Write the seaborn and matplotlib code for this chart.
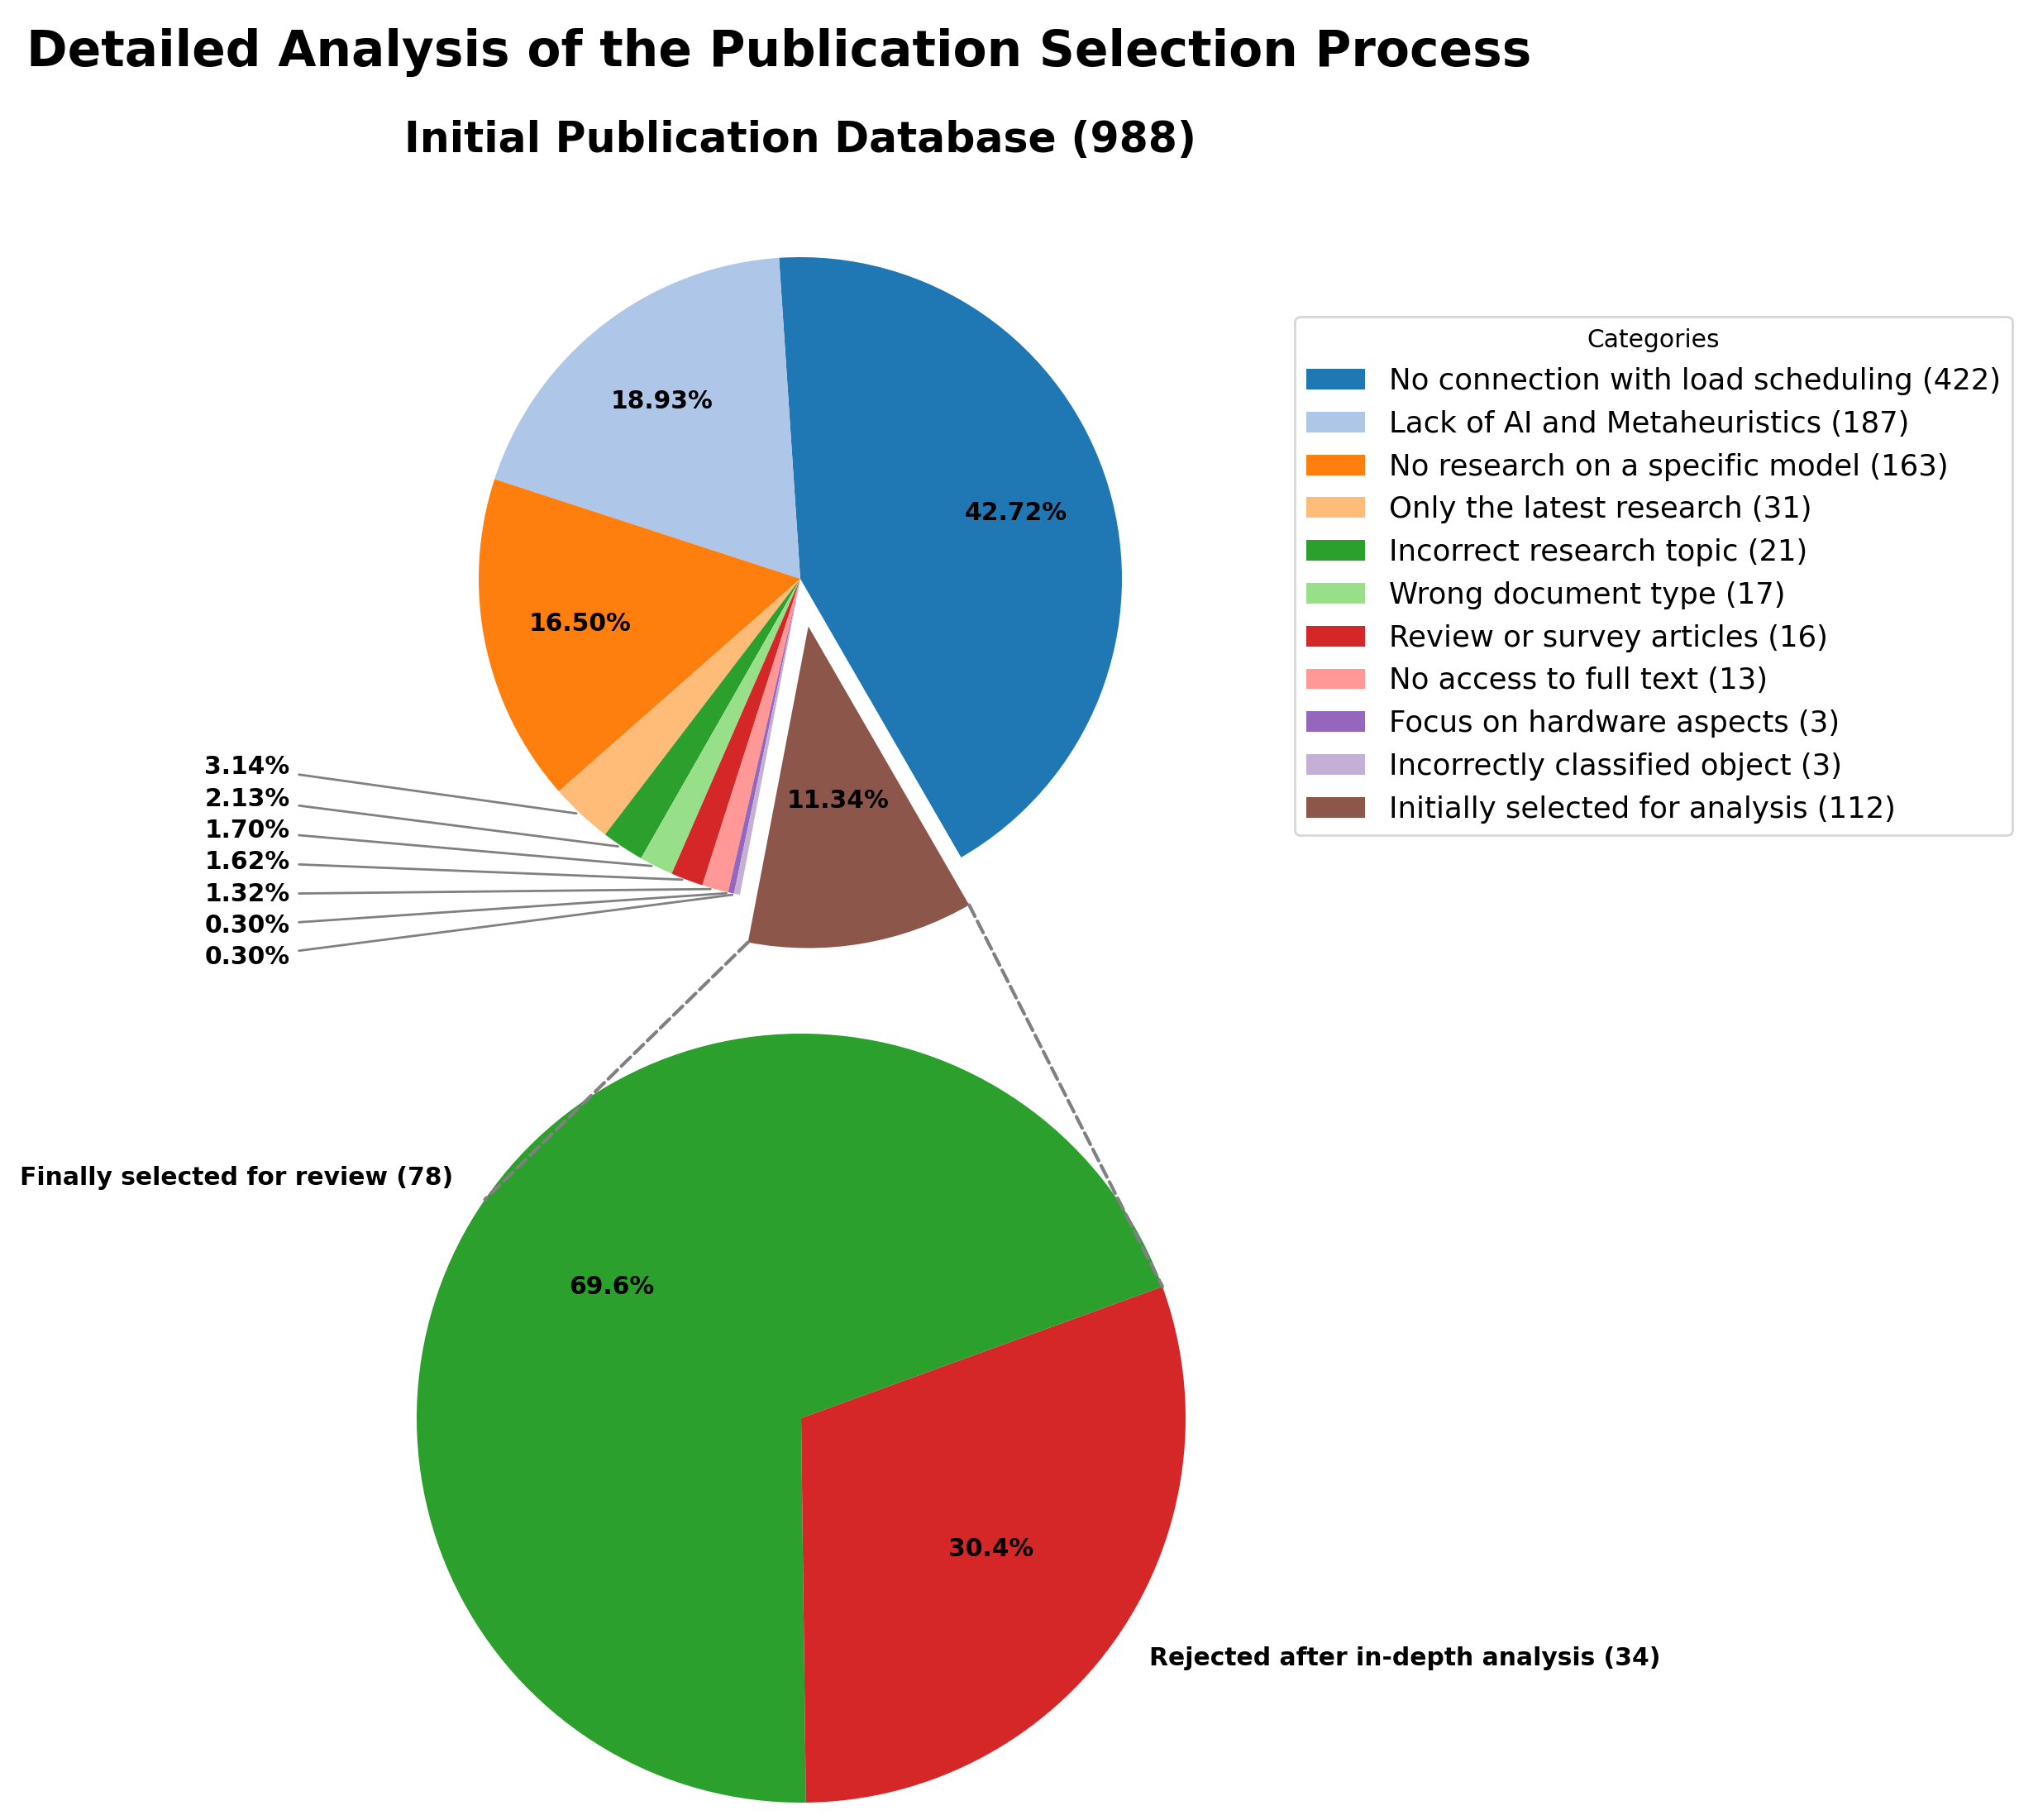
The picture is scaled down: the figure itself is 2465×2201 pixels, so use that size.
import numpy as np
import matplotlib
matplotlib.use('Agg')
import matplotlib.pyplot as plt
from matplotlib.patches import ConnectionPatch
import seaborn as sns

# data
categories = ['No connection with load scheduling', 'Lack of AI and Metaheuristics',
              'No research on a specific model', 'Only the latest research',
              'Incorrect research topic', 'Wrong document type', 'Review or survey articles',
              'No access to full text', 'Focus on hardware aspects',
              'Incorrectly classified object', 'Initially selected for analysis']
counts = [422, 187, 163, 31, 21, 17, 16, 13, 3, 3, 112]
percents = [42.72, 18.93, 16.50, 3.14, 2.13, 1.70, 1.62, 1.32, 0.30, 0.30, 11.34]
total = 988

sub_labels = ['Finally selected for review', 'Rejected after in-depth analysis']
sub_counts = [78, 34]

plt.rcParams['font.family'] = ['DejaVu Sans']

colors = sns.color_palette('tab20', len(categories))
sub_colors = [colors[4], colors[6]]

W, H, DPI = 2465, 2201, 200
fig = plt.figure(figsize=(W / DPI, H / DPI), dpi=DPI)

# axes placed in pixels (center x, center y from top, radius)
def pie_axes(cx, cy, r):
    half = 1.25 * r
    return fig.add_axes([(cx - half) / W, 1 - (cy + half) / H, 2 * half / W, 2 * half / H])

ax1 = pie_axes(968, 700, 389)
ax2 = pie_axes(969, 1715, 465)

lab_fs = 10.7

# top pie
explode = [0] * (len(percents) - 1) + [0.15]
wedges, texts, autotexts = ax1.pie(
    percents, colors=colors, startangle=-60, explode=explode,
    autopct=lambda p: f'{p:.2f}%' if p > 5 else '', pctdistance=0.7,
    textprops=dict(fontsize=lab_fs, fontweight='bold'))

# label of the exploded slice sits where it would be without the shift
bw = wedges[-1]
mid = np.deg2rad((bw.theta1 + bw.theta2) / 2)
autotexts[-1].set_position((0.7 * np.cos(mid), 0.7 * np.sin(mid)))

# small slices get labels out on the left
small = [i for i, p in enumerate(percents) if p < 5]
for k, i in enumerate(small):
    w = wedges[i]
    a = np.deg2rad((w.theta1 + w.theta2) / 2)
    ax1.annotate(f'{percents[i]:.2f}%', xy=(np.cos(a), np.sin(a)),
                 xytext=(-1.72, -0.586 - 0.0985 * k),
                 ha='center', va='center', fontsize=lab_fs, fontweight='bold',
                 arrowprops=dict(arrowstyle='-', color='gray', lw=1.0))

ax1.set_title(f'Initial Publication Database ({total})', fontsize=18.2,
              fontweight='bold', pad=10.7)

# bottom pie
wedges2, texts2, autotexts2 = ax2.pie(
    sub_counts, labels=[f'{l} ({n})' for l, n in zip(sub_labels, sub_counts)],
    colors=sub_colors, startangle=20, autopct='%1.1f%%',
    textprops=dict(fontsize=lab_fs, fontweight='bold'))

# dashed connectors
g = wedges2[0]
cx, cy = bw.center
pairs = [(bw.theta1, (g.theta1 + g.theta2) / 2), (bw.theta2, g.theta1)]
for ta, tb in pairs:
    ta, tb = np.deg2rad(ta), np.deg2rad(tb)
    con = ConnectionPatch(xyA=(cx + bw.r * np.cos(ta), cy + bw.r * np.sin(ta)), coordsA=ax1.transData,
                          xyB=(np.cos(tb), np.sin(tb)), coordsB=ax2.transData,
                          color='gray', linestyle='--', lw=1.5)
    fig.add_artist(con)

fig.legend(wedges, [f'{c} ({n})' for c, n in zip(categories, counts)],
           title='Categories', loc='upper left',
           bbox_to_anchor=(1566 / W, 1 - 383 / H), borderaxespad=0,
           fontsize=12.8, title_fontsize=10.7)

fig.text(942 / W, 1 - 80 / H, 'Detailed Analysis of the Publication Selection Process',
         ha='center', va='baseline', fontsize=21.5, fontweight='bold')

fig.savefig('out.png', dpi=DPI)
